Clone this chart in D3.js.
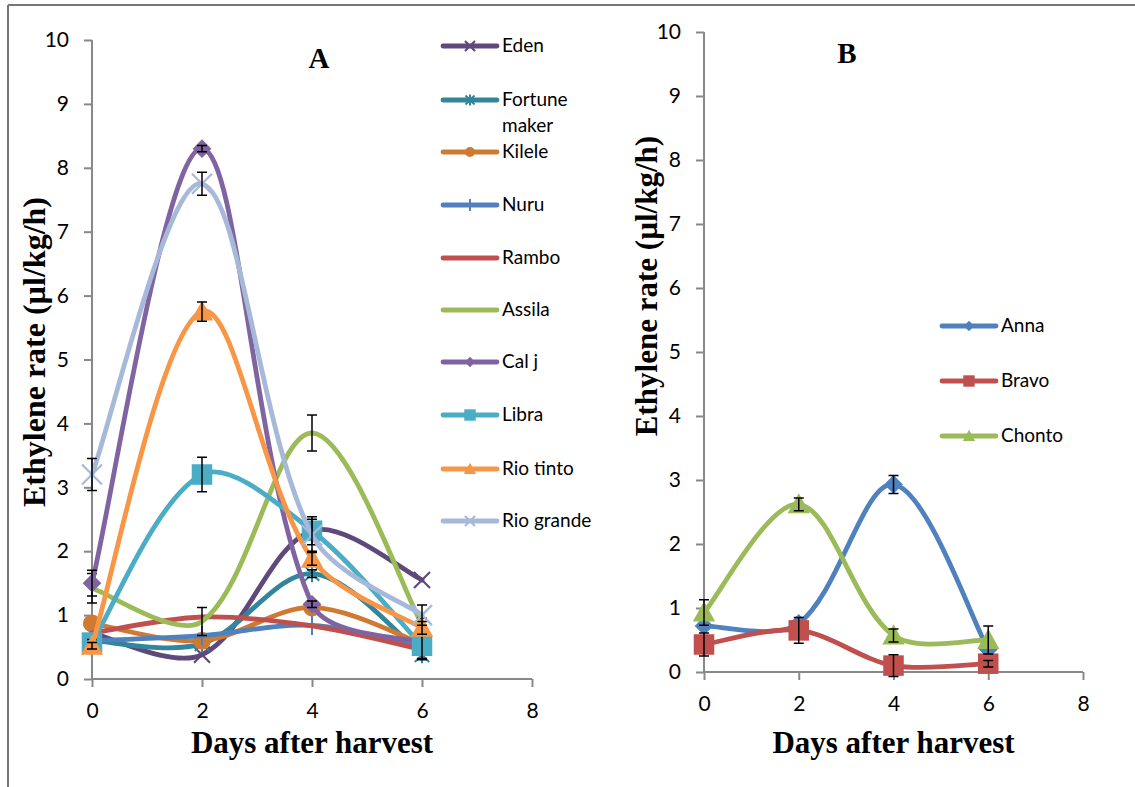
<!DOCTYPE html>
<html><head><meta charset="utf-8">
<script src="https://cdn.jsdelivr.net/npm/d3@7/dist/d3.min.js"></script>
<style>
body{margin:0;background:#fff;}
svg{display:block;}
.tick text{font-family:Lato,"Open Sans",sans-serif;}
</style></head>
<body>
<svg id="chart" width="1135" height="787"></svg>
<script>
// ---------- DATA ----------
const days = [0, 2, 4, 6];
const xTicks = [0, 2, 4, 6, 8];
const yTicks = [0, 1, 2, 3, 4, 5, 6, 7, 8, 9, 10];

const namesA = ["Eden", "Fortune maker", "Kilele", "Nuru", "Rambo", "Assila", "Cal j", "Libra", "Rio tinto", "Rio grande"];
const eden        = [0.72, 0.38, 2.32, 1.55];
const fortune     = [0.60, 0.55, 1.65, 0.38];
const kilele      = [0.87, 0.60, 1.12, 0.55];
const nuru        = [0.60, 0.68, 0.84, 0.50];
const rambo       = [0.72, 0.97, 0.83, 0.46];
const assila      = [1.42, 0.90, 3.85, 0.85];
const calj        = [1.50, 8.30, 1.17, 0.57];
const libra       = [0.57, 3.20, 2.32, 0.52];
const riotinto    = [0.52, 5.75, 1.88, 0.80];
const riogrande   = [3.20, 7.75, 2.25, 1.00];
const errEden      = [0, 0, 0, 0];
const errFortune   = [0, 0, 0.06, 0.08];
const errKilele    = [0, 0, 0, 0];
const errNuru      = [0, 0, 0, 0];
const errRambo     = [0, 0, 0, 0];
const errAssila    = [0.23, 0.22, 0.28, 0.10];
const errCalj      = [0.20, 0.05, 0.05, 0.05];
const errLibra     = [0.05, 0.27, 0.22, 0.20];
const errRiotinto  = [0.05, 0.15, 0.10, 0.10];
const errRiogrande = [0.25, 0.18, 0.25, 0.16];

const namesB = ["Anna", "Bravo", "Chonto"];
const anna   = [0.72, 0.76, 2.93, 0.35];
const bravo  = [0.43, 0.65, 0.10, 0.13];
const chonto = [0.93, 2.62, 0.57, 0.50];
const errAnna   = [0, 0, 0.14, 0];
const errBravo  = [0.18, 0.20, 0.17, 0.05];
const errChonto = [0.20, 0.10, 0.10, 0.22];

// ---------- STYLE ----------
const seriesA = [
  {name: namesA[0], v: eden, e: errEden, color: "#5F497A", marker: "x", ms: 16},
  {name: namesA[1], v: fortune, e: errFortune, color: "#31859C", marker: "star", ms: 16},
  {name: namesA[2], v: kilele, e: errKilele, color: "#CF7A33", marker: "circle", ms: 18},
  {name: namesA[3], v: nuru, e: errNuru, color: "#4F81BD", marker: "plus", ms: 16},
  {name: namesA[4], v: rambo, e: errRambo, color: "#C0504D", marker: "none", ms: 16},
  {name: namesA[5], v: assila, e: errAssila, color: "#9BBB59", marker: "none", ms: 16},
  {name: namesA[6], v: calj, e: errCalj, color: "#8064A2", marker: "diamond", ms: 18},
  {name: namesA[7], v: libra, e: errLibra, color: "#4BACC6", marker: "square", ms: 18},
  {name: namesA[8], v: riotinto, e: errRiotinto, color: "#F79646", marker: "triangle", ms: 18},
  {name: namesA[9], v: riogrande, e: errRiogrande, color: "#A7B9D8", marker: "x", ms: 20}
];
const seriesB = [
  {name: namesB[0], v: anna, e: errAnna, color: "#4F81BD", marker: "diamond", ms: 18},
  {name: namesB[1], v: bravo, e: errBravo, color: "#C0504D", marker: "square", ms: 18},
  {name: namesB[2], v: chonto, e: errChonto, color: "#9BBB59", marker: "triangle", ms: 18}
];

// Excel-like smoothed curve (chord-length weighted tangents), as a d3 curve factory
function curveExcel(context) {
  let pts;
  return {
    areaStart() {}, areaEnd() {},
    lineStart() { pts = []; },
    point(x, y) { pts.push([+x, +y]); },
    lineEnd() {
      const n = pts.length;
      if (!n) return;
      context.moveTo(pts[0][0], pts[0][1]);
      if (n === 1) return;
      const outC = [], inC = [];
      for (let i = 0; i < n; i++) {
        const p = pts[i];
        const prev = pts[Math.max(0, i - 1)], next = pts[Math.min(n - 1, i + 1)];
        const dx = next[0] - prev[0], dy = next[1] - prev[1];
        const L1 = Math.hypot(p[0] - prev[0], p[1] - prev[1]);
        const L2 = Math.hypot(next[0] - p[0], next[1] - p[1]);
        const tot = L1 + L2 || 1;
        if (i === 0 || i === n - 1) {
          outC[i] = [p[0] + dx / 6, p[1] + dy / 6];
          inC[i] = [p[0] - dx / 6, p[1] - dy / 6];
        } else {
          outC[i] = [p[0] + dx * L2 / tot / 3, p[1] + dy * L2 / tot / 3];
          inC[i] = [p[0] - dx * L1 / tot / 3, p[1] - dy * L1 / tot / 3];
        }
      }
      for (let i = 0; i < n - 1; i++) {
        context.bezierCurveTo(outC[i][0], outC[i][1], inC[i + 1][0], inC[i + 1][1], pts[i + 1][0], pts[i + 1][1]);
      }
    }
  };
}

const svg = d3.select("#chart");
svg.append("line").attr("x1", 8).attr("x2", 1135).attr("y1", 5).attr("y2", 5).attr("stroke", "#767676").attr("stroke-width", 2);
svg.append("line").attr("x1", 8).attr("x2", 8).attr("y1", 5).attr("y2", 787).attr("stroke", "#767676").attr("stroke-width", 2);

function drawMarker(g, type, x, y, color, s) {
  if (type === "none") return;
  if (type === "circle") {
    g.append("circle").attr("cx", x).attr("cy", y).attr("r", s * 0.5).attr("fill", color);
  } else if (type === "square") {
    g.append("rect").attr("x", x - s * 0.57).attr("y", y - s * 0.57).attr("width", s * 1.14).attr("height", s * 1.14).attr("fill", color);
  } else if (type === "diamond") {
    const r = s * 0.52;
    g.append("path").attr("d", `M${x},${y - r}L${x + r},${y}L${x},${y + r}L${x - r},${y}Z`).attr("fill", color);
  } else if (type === "triangle") {
    const r = s * 0.62;
    g.append("path").attr("d", `M${x},${y - r}L${x + r},${y + r * 0.8}L${x - r},${y + r * 0.8}Z`).attr("fill", color);
  } else if (type === "x") {
    const r = s * 0.5;
    g.append("path").attr("d", `M${x - r},${y - r}L${x + r},${y + r}M${x - r},${y + r}L${x + r},${y - r}`).attr("stroke", color).attr("stroke-width", 2.2);
  } else if (type === "star") {
    const r = s * 0.45;
    g.append("path").attr("d", `M${x - r},${y - r}L${x + r},${y + r}M${x - r},${y + r}L${x + r},${y - r}M${x},${y - r * 1.2}L${x},${y + r * 1.2}`).attr("stroke", color).attr("stroke-width", 2);
  } else if (type === "plus") {
    const r = s * 0.6;
    g.append("path").attr("d", `M${x},${y - r}L${x},${y + r}M${x - r},${y}L${x + r},${y}`).attr("stroke", color).attr("stroke-width", 2);
  }
}

function drawPanel(cfg) {
  const g = svg.append("g");
  const x = d3.scaleLinear().domain([0, 8]).range([cfg.x0, cfg.x1]);
  const y = d3.scaleLinear().domain([0, 10]).range([cfg.y0, cfg.y1]);

  const yAxis = g.append("g").attr("transform", `translate(${cfg.x0},0)`)
    .call(d3.axisLeft(y).tickValues(yTicks).tickSize(8).tickPadding(15).tickFormat(d3.format("d")));
  const xAxis = g.append("g").attr("transform", `translate(0,${cfg.y0})`)
    .call(d3.axisBottom(x).tickValues(xTicks).tickSize(8).tickPadding(16).tickFormat(d3.format("d")));
  [yAxis, xAxis].forEach(a => {
    a.select(".domain").attr("stroke", "#888").attr("stroke-width", 2);
    a.selectAll(".tick line").attr("stroke", "#888").attr("stroke-width", 2);
    a.selectAll(".tick text").attr("font-size", 21).attr("fill", "#000");
  });
  yAxis.select(".domain").attr("d", `M0,${cfg.y0}V${cfg.y1}`);
  xAxis.select(".domain").attr("d", `M${cfg.x0},0H${cfg.x1}`);

  g.append("text").attr("x", (cfg.x0 + cfg.x1) / 2).attr("y", 753)
    .attr("text-anchor", "middle").attr("font-family", "Liberation Serif, Times New Roman, serif")
    .attr("font-weight", "bold").attr("font-size", 31).text("Days after harvest");
  g.append("text").attr("transform", `translate(${cfg.ylabX},${cfg.ylabY}) rotate(-90)`)
    .attr("text-anchor", "middle").attr("font-family", "Liberation Serif, Times New Roman, serif")
    .attr("font-weight", "bold").attr("font-size", cfg.ylabSize).text("Ethylene rate (µl/kg/h)");
  g.append("text").attr("x", cfg.letterX).attr("y", cfg.letterY).attr("text-anchor", "middle")
    .attr("font-family", "Liberation Serif, Times New Roman, serif").attr("font-weight", "bold")
    .attr("font-size", 29).text(cfg.letter);

  const line = d3.line().x((d, i) => x(days[i])).y(d => y(d)).curve(curveExcel);
  cfg.series.forEach(s => {
    g.append("path").datum(s.v).attr("d", line).attr("fill", "none")
      .attr("stroke", s.color).attr("stroke-width", 4.8).attr("stroke-linecap", "round");
    s.v.forEach((v, i) => drawMarker(g, s.marker, x(days[i]), y(v), s.color, s.ms));
    s.v.forEach((v, i) => {
      if (!s.e[i]) return;
      const cx = x(days[i]), t = y(v + s.e[i]), b = y(v - s.e[i]);
      g.append("path").attr("d", `M${cx},${t}V${b}M${cx - 5},${t}H${cx + 5}M${cx - 5},${b}H${cx + 5}`)
        .attr("stroke", "#000").attr("stroke-width", 1.5).attr("fill", "none");
    });
  });

  const lg = g.append("g");
  cfg.series.forEach((s, i) => {
    const ly = cfg.legY[i];
    lg.append("line").attr("x1", cfg.legX).attr("x2", cfg.legX + 54).attr("y1", ly).attr("y2", ly)
      .attr("stroke", s.color).attr("stroke-width", 4.8).attr("stroke-linecap", "round");
    drawMarker(lg, s.marker, cfg.legX + 27, ly, s.color, 10);
    const words = s.name === "Fortune maker" ? ["Fortune", "maker"] : [s.name];
    words.forEach((w, k) => {
      lg.append("text").attr("x", cfg.legX + 59).attr("y", ly + 6 + k * 26)
        .attr("font-family", "Lato, Open Sans, sans-serif").attr("font-size", 19).attr("fill", "#000").text(w);
    });
  });
}

drawPanel({
  x0: 92, x1: 532, y0: 679, y1: 40, series: seriesA,
  ylabX: 45, ylabY: 352, ylabSize: 32, letter: "A", letterX: 319, letterY: 68,
  legX: 443, legY: [46, 100, 152, 205, 258, 310, 362, 415, 469, 521]
});
drawPanel({
  x0: 704, x1: 1083, y0: 672, y1: 32, series: seriesB,
  ylabX: 657, ylabY: 286, ylabSize: 31, letter: "B", letterX: 847, letterY: 63,
  legX: 942, legY: [326, 381, 436]
});
</script>
</body></html>
